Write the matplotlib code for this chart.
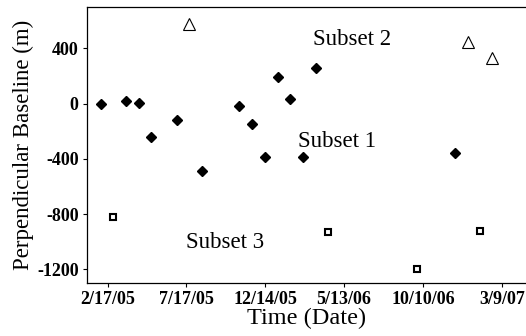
import matplotlib
matplotlib.use("Agg")
import matplotlib.pyplot as plt
import pandas as pd

# Subset 1 (filled diamonds)
s1_dates = ["2005-02-05", "2005-03-24", "2005-04-18", "2005-05-11", "2005-06-29",
            "2005-08-15", "2005-10-26", "2005-11-19", "2005-12-14", "2006-01-07",
            "2006-01-30", "2006-02-23", "2006-03-20", "2006-12-10"]
s1_vals = [0, 20, 5, -240, -120, -490, -15, -150, -390, 190, 35, -390, 260, -360]

# Subset 2 (open triangles)
s2_dates = ["2005-07-22", "2007-01-03", "2007-02-19"]
s2_vals = [580, 445, 330]

# Subset 3 (open squares)
s3_dates = ["2005-02-28", "2006-04-13", "2006-09-28", "2007-01-27"]
s3_vals = [-825, -930, -1200, -920]

tick_dates = ["2005-02-17", "2005-07-17", "2005-12-14", "2006-05-13", "2006-10-10", "2007-03-09"]
tick_labels = ["2/17/05", "7/17/05", "12/14/05", "5/13/06", "10/10/06", "3/9/07"]
y_ticks = [400, 0, -400, -800, -1200]

plt.rcParams["font.family"] = ["Liberation Serif", "DejaVu Serif"]
plt.rcParams["axes.unicode_minus"] = False

fig = plt.figure(figsize=(5.26, 3.36), dpi=100)
ax = fig.add_axes([0.1654, 0.1577, 0.8346, 0.8213])

ax.plot(pd.to_datetime(s1_dates), s1_vals, "D", color="black", markersize=5.5, linestyle="none")
ax.plot(pd.to_datetime(s2_dates), s2_vals, "^", mfc="white", mec="black", mew=0.8,
        markersize=8, linestyle="none")
ax.plot(pd.to_datetime(s3_dates), s3_vals, "s", mfc="white", mec="black", mew=1.5,
        markersize=5, linestyle="none")

ax.text(pd.Timestamp("2006-05-28"), 465, "Subset 2", fontsize=16.5, ha="center", va="center")
ax.text(pd.Timestamp("2006-04-29"), -274, "Subset 1", fontsize=16.5, ha="center", va="center")
ax.text(pd.Timestamp("2005-09-28"), -1006, "Subset 3", fontsize=16.5, ha="center", va="center")

ax.set_xlim(pd.Timestamp("2005-01-09"), pd.Timestamp("2007-04-24"))
ax.set_ylim(-1300, 700)
ax.set_xticks(pd.to_datetime(tick_dates))
ax.set_xticklabels(tick_labels)
ax.set_yticks(y_ticks)
for lab in ax.get_xticklabels() + ax.get_yticklabels():
    lab.set_fontweight("bold")
    lab.set_fontsize(13)
ax.tick_params(direction="out", length=3, width=0.8, pad=3)

ax.spines["right"].set_visible(False)
for s in ["left", "bottom", "top"]:
    ax.spines[s].set_linewidth(0.9)

ax.set_xlabel("Time (Date)", fontsize=17.5, labelpad=0)
ax.set_ylabel("Perpendicular Baseline (m)", fontsize=16.5, labelpad=2)

fig.savefig("out.png", dpi=100)
